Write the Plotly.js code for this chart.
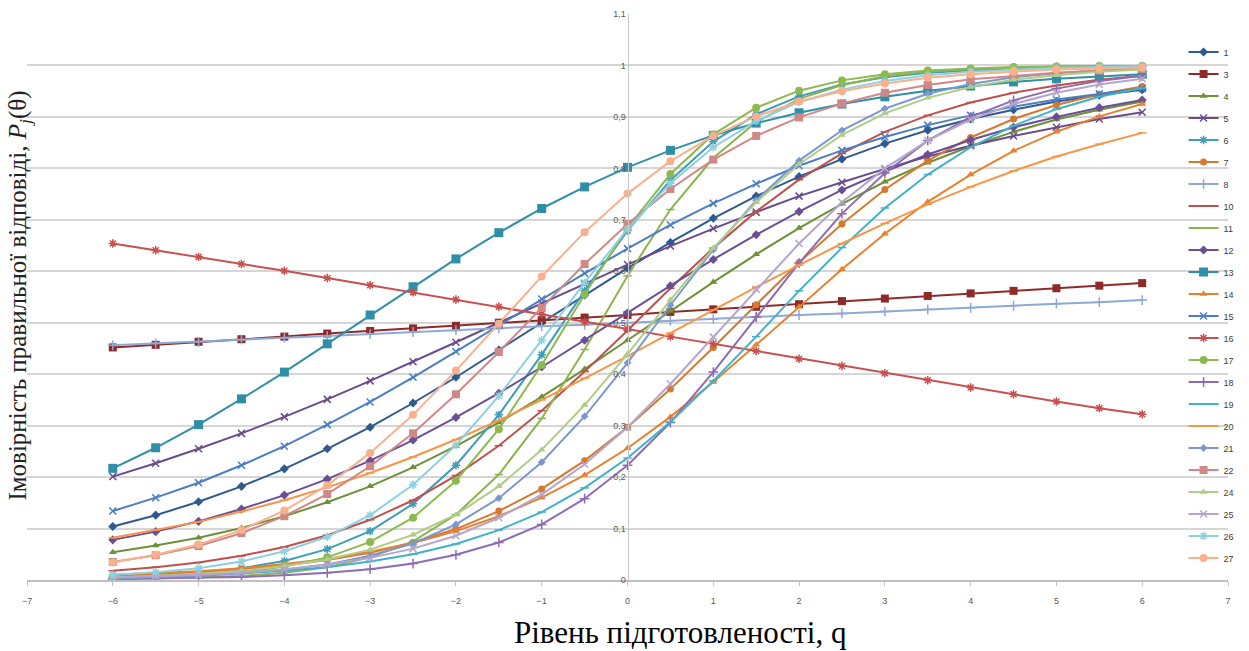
<!DOCTYPE html>
<html><head><meta charset="utf-8">
<script src="https://cdn.plot.ly/plotly-3.0.1.min.js"></script>
<style>html,body{margin:0;padding:0;background:#fff}#chart{width:1249px;height:651px}</style>
</head><body><div id="chart"></div>
<script>
const theta = [-6,-5.5,-5,-4.5,-4,-3.5,-3,-2.5,-2,-1.5,-1,-0.5,0,0.5,1,1.5,2,2.5,3,3.5,4,4.5,5,5.5,6];
const xTickVals = [-7,-6,-5,-4,-3,-2,-1,0,1,2,3,4,5,6,7];
const s1  = [.104,.126,.152,.182,.216,.255,.297,.344,.394,.447,.500,.554,.606,.656,.703,.746,.784,.818,.848,.874,.896,.914,.930,.942,.953];
const s3  = [.452,.457,.463,.468,.473,.479,.484,.489,.494,.500,.505,.510,.515,.521,.526,.531,.536,.542,.547,.552,.557,.562,.567,.572,.577];
const s4  = [.054,.067,.082,.101,.124,.151,.182,.219,.260,.306,.356,.410,.466,.523,.579,.633,.684,.731,.774,.811,.843,.871,.895,.914,.930];
const s5  = [.201,.227,.255,.285,.317,.351,.387,.424,.462,.500,.538,.576,.613,.649,.683,.715,.746,.773,.799,.823,.844,.863,.880,.896,.909];
const s6  = [.005,.009,.014,.023,.037,.060,.095,.148,.223,.321,.438,.562,.679,.777,.852,.905,.940,.963,.977,.986,.991,.995,.997,.998,.999];
const s7  = [.008,.011,.015,.020,.028,.039,.053,.073,.099,.134,.177,.232,.297,.371,.452,.535,.617,.692,.759,.815,.860,.896,.923,.944,.959];
const s8  = [.456,.460,.463,.467,.471,.474,.478,.482,.485,.489,.493,.496,.500,.504,.507,.511,.515,.518,.522,.526,.529,.533,.537,.540,.544];
const s10 = [.018,.025,.034,.047,.064,.087,.117,.155,.203,.261,.329,.405,.485,.567,.645,.716,.778,.829,.871,.903,.928,.947,.961,.972,.980];
const s11 = [.001,.003,.005,.008,.014,.025,.044,.075,.127,.205,.314,.448,.591,.720,.820,.890,.935,.962,.979,.988,.993,.996,.998,.999,.999];
const s12 = [.078,.094,.114,.138,.165,.196,.232,.272,.316,.363,.414,.466,.519,.572,.623,.671,.716,.758,.794,.827,.855,.880,.900,.918,.933];
const s13 = [.217,.257,.302,.352,.404,.459,.515,.570,.624,.675,.722,.764,.802,.835,.864,.888,.908,.925,.939,.951,.960,.968,.974,.979,.983];
const s14 = [.010,.013,.017,.023,.031,.041,.055,.072,.095,.124,.160,.204,.256,.317,.385,.457,.531,.604,.673,.735,.788,.834,.871,.901,.925];
const s15 = [.134,.160,.189,.223,.260,.302,.346,.394,.444,.495,.546,.596,.644,.690,.732,.770,.805,.835,.861,.884,.903,.920,.934,.945,.955];
const s16 = [.654,.641,.628,.614,.601,.587,.573,.559,.545,.531,.517,.502,.488,.473,.459,.445,.430,.416,.402,.388,.374,.361,.347,.334,.322];
const s17 = [.003,.005,.009,.015,.026,.044,.074,.121,.193,.293,.418,.555,.684,.789,.866,.918,.951,.971,.983,.990,.994,.997,.998,.999,.999];
const s18 = [.002,.003,.004,.006,.009,.014,.021,.032,.049,.073,.108,.158,.223,.306,.404,.511,.616,.712,.791,.854,.900,.932,.955,.970,.980];
const s19 = [.004,.006,.009,.013,.018,.025,.036,.050,.070,.097,.132,.179,.237,.307,.387,.473,.562,.646,.723,.788,.841,.883,.915,.939,.956];
const s20 = [.082,.097,.113,.133,.155,.180,.208,.239,.273,.310,.350,.392,.435,.480,.525,.569,.612,.654,.693,.730,.764,.795,.823,.847,.869];
const s21 = [.003,.005,.008,.013,.020,.030,.047,.071,.108,.159,.229,.318,.422,.534,.642,.738,.815,.874,.916,.945,.964,.977,.985,.990,.994];
const s22 = [.035,.048,.066,.091,.124,.167,.221,.285,.361,.443,.529,.614,.692,.760,.817,.863,.899,.926,.947,.962,.973,.980,.986,.990,.993];
const s24 = [.005,.008,.012,.018,.027,.040,.059,.088,.127,.182,.253,.340,.439,.544,.645,.734,.808,.865,.907,.937,.958,.972,.981,.988,.992];
const s25 = [.005,.007,.010,.014,.021,.030,.043,.061,.086,.121,.166,.225,.297,.381,.472,.565,.654,.734,.800,.854,.895,.925,.947,.963,.974];
const s26 = [.010,.015,.023,.036,.056,.084,.126,.185,.262,.358,.466,.578,.682,.771,.841,.892,.929,.953,.970,.981,.988,.992,.995,.997,.998];
const s27 = [.034,.049,.069,.097,.135,.184,.247,.321,.407,.498,.590,.676,.751,.814,.863,.901,.930,.950,.965,.976,.983,.988,.992,.994,.996];

const seriesNames = ['1','3','4','5','6','7','8','10','11','12','13','14','15','16','17','18','19','20','21','22','24','25','26','27'];
const seriesValues = [s1,s3,s4,s5,s6,s7,s8,s10,s11,s12,s13,s14,s15,s16,s17,s18,s19,s20,s21,s22,s24,s25,s26,s27];

const styles = {
 '1': {c:'#2E5A8E', m:'diamond', s:7},
 '3': {c:'#8E2B29', m:'square', s:8},
 '4': {c:'#6E9136', m:'triangle-up', s:7},
 '5': {c:'#6A4B8E', m:'x-thin-open', s:7},
 '6': {c:'#3E9DB8', m:'asterisk-open', s:7},
 '7': {c:'#D4792E', m:'circle', s:7},
 '8': {c:'#8FA9D6', m:'cross-thin-open', s:7},
 '10': {c:'#C0504D', m:'line-ew-open', s:6},
 '11': {c:'#8DB34E', m:'line-ew-open', s:6},
 '12': {c:'#6B4F96', m:'diamond', s:7},
 '13': {c:'#2F8FA8', m:'square', s:9},
 '14': {c:'#E8812E', m:'triangle-up', s:7},
 '15': {c:'#4A7EC2', m:'x-thin-open', s:7},
 '16': {c:'#C8504E', m:'asterisk-open', s:7},
 '17': {c:'#8DBA4E', m:'circle', s:8},
 '18': {c:'#8D6CB4', m:'cross-thin-open', s:7},
 '19': {c:'#40B0CC', m:'line-ew-open', s:6},
 '20': {c:'#F79646', m:'line-ew-open', s:6},
 '21': {c:'#7A98D0', m:'diamond', s:6},
 '22': {c:'#D08886', m:'square', s:8},
 '24': {c:'#B0CC86', m:'triangle-up', s:7},
 '25': {c:'#B5A5CC', m:'x-thin-open', s:7},
 '26': {c:'#8ED0E0', m:'asterisk-open', s:7},
 '27': {c:'#F9B08C', m:'circle', s:8}
};

const traces = seriesNames.map((n,i)=>{
  const st = styles[n];
  const open = st.m.indexOf('open')>=0;
  return {
    type:'scatter', mode:'lines+markers', name:n, legendgroup:n,
    x: theta, y: seriesValues[i],
    line:{color:st.c, width:2},
    marker:{symbol:st.m, size:st.s, color:st.c, line:{color:st.c, width: open?1.5:0}}
  };
});

const layout = {
  width:1249, height:651,
  margin:{l:27, r:9, t:14, b:71},
  paper_bgcolor:'#ffffff', plot_bgcolor:'#ffffff',
  separators:', ',
  showlegend:true,
  legend:{x:0.963, xanchor:'left', y:0.9585, yanchor:'top', bgcolor:'rgba(0,0,0,0)',
          font:{family:'Liberation Sans, Arial, sans-serif', size:9, color:'#404040'},
          tracegroupgap:3, itemwidth:30, traceorder:'grouped'},
  xaxis:{range:[-7,7], tickvals:xTickVals, showgrid:false, zeroline:false,
         showline:true, linecolor:'#bfbfbf', linewidth:1.5,
         ticks:'outside', ticklen:4, tickcolor:'#bfbfbf', ticklabelstandoff:8,
         tickfont:{family:'Liberation Sans, Arial, sans-serif', size:9, color:'#595959'}},
  yaxis:{range:[0,1.1], dtick:0.1, tick0:0, showgrid:true, gridcolor:'#d6d6d6', gridwidth:2,
         zeroline:false, showline:true, linecolor:'#c8c8c8', linewidth:1.5,
         anchor:'free', position:0.5, ticks:'',
         tickfont:{family:'Liberation Sans, Arial, sans-serif', size:9, color:'#595959'}},
  annotations:[
    {text:'Рівень підготовленості, q', xref:'paper', yref:'paper', x:0.544, y:-0.092,
     xanchor:'center', yanchor:'middle', showarrow:false,
     font:{family:'Liberation Serif, Times New Roman, serif', size:31, color:'#000'}},
    {text:'Імовірність правильної відповіді, <i>P</i><sub><i>j</i></sub>(θ)', xref:'paper', yref:'paper',
     x:-0.0066, y:0.5027, xanchor:'center', yanchor:'middle', textangle:-90, showarrow:false,
     font:{family:'Liberation Serif, Times New Roman, serif', size:25, color:'#222'}}
  ]
};

Plotly.newPlot('chart', traces, layout, {displayModeBar:false, staticPlot:true});
</script>
</body></html>
